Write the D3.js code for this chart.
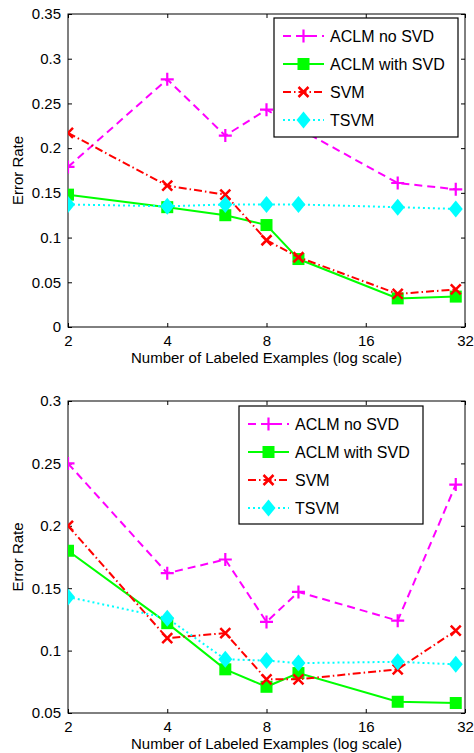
<!DOCTYPE html>
<html><head><meta charset="utf-8">
<script src="https://cdn.jsdelivr.net/npm/d3@7"></script>
<style>body{margin:0;background:#fff}svg{display:block}text{font-family:"Liberation Sans",Arial,sans-serif}</style>
</head><body>
<svg id="chart" width="474" height="753"></svg>
<script>
const xValues = [2, 4, 6, 8, 10, 20, 30];
const xTicks = [2, 4, 8, 16, 32];
const seriesNames = ["ACLM no SVD", "ACLM with SVD", "SVM", "TSVM"];

// top panel
const top_aclmNoSvd   = [0.179, 0.277, 0.214, 0.243, 0.222, 0.161, 0.154];
const top_aclmWithSvd = [0.148, 0.134, 0.125, 0.114, 0.076, 0.032, 0.034];
const top_svm         = [0.217, 0.158, 0.148, 0.097, 0.078, 0.037, 0.042];
const top_tsvm        = [0.137, 0.135, 0.137, 0.137, 0.137, 0.134, 0.132];
const top_yTicks = [0, 0.05, 0.1, 0.15, 0.2, 0.25, 0.3, 0.35];

// bottom panel
const bot_aclmNoSvd   = [0.250, 0.162, 0.173, 0.123, 0.147, 0.124, 0.233];
const bot_aclmWithSvd = [0.180, 0.122, 0.085, 0.071, 0.082, 0.059, 0.058];
const bot_svm         = [0.200, 0.110, 0.114, 0.077, 0.077, 0.085, 0.116];
const bot_tsvm        = [0.143, 0.126, 0.093, 0.092, 0.090, 0.091, 0.089];
const bot_yTicks = [0.05, 0.1, 0.15, 0.2, 0.25, 0.3];

const styles = [
  {color:"#ff00ff", dash:"8,5", marker:"plus"},
  {color:"#00ff00", dash:null, marker:"square"},
  {color:"#ff0000", dash:"8,3,1.5,3", marker:"x"},
  {color:"#00ffff", dash:"2,3", marker:"diamond"}
];

const svg = d3.select("#chart");
const fmt = d => (d === 0 ? "0" : String(d).replace(/^0(?=\.)/, "0"));

function drawMarker(g, type, color, x, y) {
  if (type === "plus") {
    g.append("path").attr("d", `M${x-6.5},${y}H${x+6.5}M${x},${y-6.5}V${y+6.5}`)
      .attr("stroke", color).attr("stroke-width", 2.2).attr("fill", "none");
  } else if (type === "x") {
    g.append("path").attr("d", `M${x-5},${y-5}L${x+5},${y+5}M${x-5},${y+5}L${x+5},${y-5}`)
      .attr("stroke", color).attr("stroke-width", 2.5).attr("fill", "none");
  } else if (type === "square") {
    g.append("rect").attr("x", x-6).attr("y", y-6).attr("width", 12).attr("height", 12)
      .attr("fill", color);
  } else if (type === "diamond") {
    g.append("path").attr("d", `M${x},${y-8.5}L${x+7},${y}L${x},${y+8.5}L${x-7},${y}Z`)
      .attr("fill", color);
  }
}

function panel(cfg) {
  const {left, right, top, bottom, yDomain, yTicks, data, legend} = cfg;
  const x = d3.scaleLog().base(2).domain([2, 32]).range([left, right]);
  const y = d3.scaleLinear().domain(yDomain).range([bottom, top]);
  const g = svg.append("g");

  // clip
  const clipId = "clip" + Math.round(top);
  svg.append("clipPath").attr("id", clipId).append("rect")
    .attr("x", left).attr("y", top).attr("width", right-left).attr("height", bottom-top);

  // axes (MATLAB-style inward ticks)
  const axB = d3.axisBottom(x).tickValues(xTicks).tickFormat(d3.format("d")).tickSizeInner(-4).tickSizeOuter(0).tickPadding(8);
  const axT = d3.axisTop(x).tickValues(xTicks).tickFormat("").tickSizeInner(-4).tickSizeOuter(0);
  const axL = d3.axisLeft(y).tickValues(yTicks).tickFormat(d => d === 0 ? "0" : d3.format("")(+d.toFixed(2))).tickSizeInner(-4).tickSizeOuter(0).tickPadding(7);
  const axR = d3.axisRight(y).tickValues(yTicks).tickFormat("").tickSizeInner(-4).tickSizeOuter(0);

  const gb = g.append("g").attr("transform", `translate(0,${bottom})`).call(axB);
  g.append("g").attr("transform", `translate(0,${top})`).call(axT);
  const gl = g.append("g").attr("transform", `translate(${left},0)`).call(axL);
  g.append("g").attr("transform", `translate(${right},0)`).call(axR);
  g.selectAll(".domain").remove();
  g.selectAll(".tick line").attr("stroke", "#000").attr("stroke-width", 1);
  g.selectAll(".tick text").attr("fill", "#000").style("font-size", "15px")
    .style("font-family", '"Liberation Sans", Arial, sans-serif');
  g.append("rect").attr("x", left).attr("y", top).attr("width", right-left).attr("height", bottom-top)
    .attr("fill", "none").attr("stroke", "#000").attr("stroke-width", 1);

  // axis titles
  g.append("text").attr("x", (left+right)/2).attr("y", bottom + 36).attr("text-anchor", "middle")
    .style("font-size", "15px").text("Number of Labeled Examples (log scale)");
  g.append("text").attr("transform", `translate(23,${(top+bottom)/2}) rotate(-90)`).attr("text-anchor", "middle")
    .style("font-size", "15px").text("Error Rate");

  // series
  const plot = g.append("g").attr("clip-path", `url(#${clipId})`);
  const line = d3.line().x(d => x(d[0])).y(d => y(d[1]));
  data.forEach((vals, i) => {
    const st = styles[i];
    const pts = xValues.map((xv, j) => [xv, vals[j]]);
    plot.append("path").datum(pts).attr("d", line).attr("fill", "none")
      .attr("stroke", st.color).attr("stroke-width", 2)
      .attr("stroke-dasharray", st.dash);
    pts.forEach(p => drawMarker(plot, st.marker, st.color, x(p[0]), y(p[1])));
  });

  // legend
  const lg = g.append("g");
  lg.append("rect").attr("x", legend.x).attr("y", legend.y).attr("width", legend.w).attr("height", legend.h)
    .attr("fill", "#fff").attr("stroke", "#000").attr("stroke-width", 1.2);
  seriesNames.forEach((name, i) => {
    const st = styles[i];
    const ry = legend.y + 18 + i * 28;
    const lx0 = legend.x + 9, lx1 = legend.x + 50;
    lg.append("line").attr("x1", lx0).attr("x2", lx1).attr("y1", ry).attr("y2", ry)
      .attr("stroke", st.color).attr("stroke-width", 2).attr("stroke-dasharray", st.dash);
    drawMarker(lg, st.marker, st.color, (lx0+lx1)/2, ry);
    lg.append("text").attr("x", legend.x + 56).attr("y", ry + 5.5).style("font-size", "16px").text(name);
  });
}

panel({left:68, right:465, top:14, bottom:327, yDomain:[0, 0.35], yTicks:top_yTicks,
  data:[top_aclmNoSvd, top_aclmWithSvd, top_svm, top_tsvm],
  legend:{x:274, y:18, w:184, h:119}});
panel({left:68, right:465, top:401, bottom:713, yDomain:[0.05, 0.3], yTicks:bot_yTicks,
  data:[bot_aclmNoSvd, bot_aclmWithSvd, bot_svm, bot_tsvm],
  legend:{x:239, y:406, w:184, h:118}});
</script>
</body></html>
